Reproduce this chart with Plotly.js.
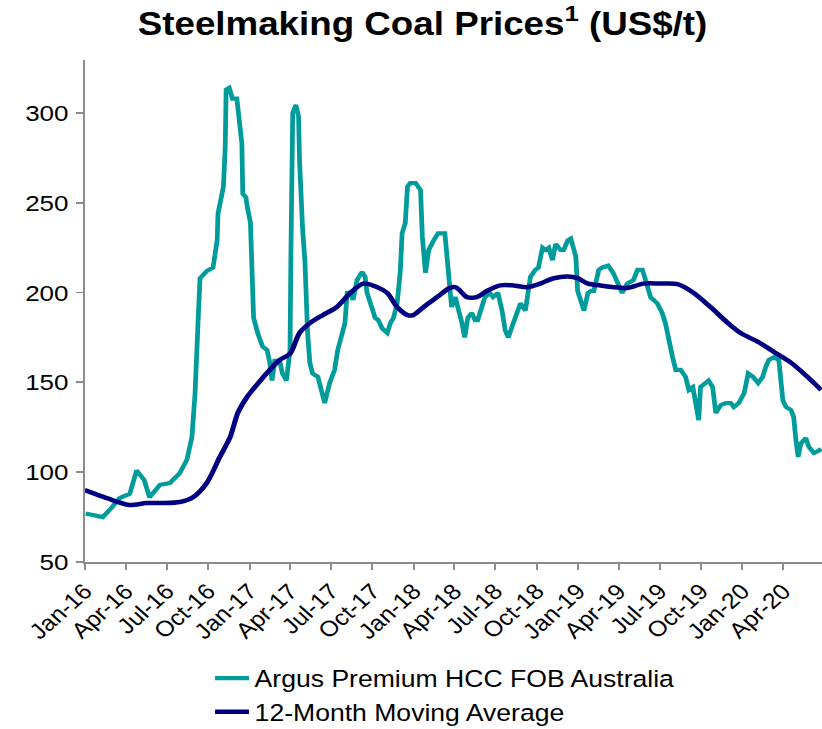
<!DOCTYPE html>
<html>
<head>
<meta charset="utf-8">
<script src="https://cdn.plot.ly/plotly-3.0.1.min.js"></script>
<style>
html,body{margin:0;padding:0;background:#fff;overflow:hidden;}
#wrap{width:727px;height:729px;transform:scaleX(1.1307);transform-origin:0 0;}
</style>
</head>
<body>
<div id="wrap"><div id="chart" style="width:727px;height:729px;"></div></div>
<script>
const argusDates = ['2016-01-03','2016-02-10','2016-03-02','2016-03-18','2016-04-10','2016-04-25','2016-05-12','2016-05-24','2016-06-16','2016-07-08','2016-07-30','2016-08-15','2016-08-26','2016-09-02','2016-09-09','2016-09-13','2016-09-28','2016-10-12','2016-10-21','2016-10-23','2016-11-04','2016-11-08','2016-11-10','2016-11-17','2016-11-24','2016-12-04','2016-12-06','2016-12-15','2016-12-17','2016-12-24','2016-12-27','2017-01-03','2017-01-05','2017-01-08','2017-01-10','2017-01-19','2017-01-30','2017-02-09','2017-02-15','2017-02-20','2017-02-26','2017-03-09','2017-03-15','2017-03-24','2017-04-01','2017-04-03','2017-04-05','2017-04-07','2017-04-14','2017-04-20','2017-04-22','2017-04-27','2017-04-29','2017-05-04','2017-05-08','2017-05-10','2017-05-15','2017-05-21','2017-06-02','2017-06-06','2017-06-17','2017-06-28','2017-07-09','2017-07-16','2017-07-25','2017-08-01','2017-08-06','2017-08-13','2017-08-19','2017-08-28','2017-09-08','2017-09-15','2017-09-19','2017-09-30','2017-10-07','2017-10-14','2017-10-23','2017-11-03','2017-11-10','2017-11-17','2017-11-25','2017-12-02','2017-12-06','2017-12-13','2017-12-18','2017-12-24','2018-01-05','2018-01-16','2018-01-20','2018-01-27','2018-02-03','2018-02-14','2018-02-24','2018-03-11','2018-03-17','2018-03-22','2018-03-26','2018-04-03','2018-04-09','2018-04-18','2018-04-24','2018-05-01','2018-05-10','2018-05-17','2018-05-23','2018-06-02','2018-06-08','2018-06-19','2018-06-26','2018-07-07','2018-07-16','2018-07-23','2018-07-30','2018-08-10','2018-08-19','2018-08-26','2018-09-06','2018-09-13','2018-09-17','2018-09-28','2018-10-05','2018-10-14','2018-10-21','2018-10-28','2018-11-05','2018-11-12','2018-11-23','2018-11-30','2018-12-09','2018-12-16','2018-12-22','2018-12-27','2018-12-31','2019-01-07','2019-01-14','2019-01-23','2019-01-30','2019-02-05','2019-02-16','2019-02-24','2019-03-09','2019-03-20','2019-03-31','2019-04-09','2019-04-20','2019-05-04','2019-05-13','2019-05-24','2019-05-31','2019-06-11','2019-06-26','2019-07-07','2019-07-14','2019-07-21','2019-07-30','2019-08-06','2019-08-17','2019-08-28','2019-09-04','2019-09-13','2019-09-19','2019-09-26','2019-09-30','2019-10-12','2019-10-18','2019-10-27','2019-11-03','2019-11-14','2019-11-25','2019-12-06','2019-12-13','2019-12-24','2020-01-05','2020-01-14','2020-01-25','2020-02-05','2020-02-15','2020-02-22','2020-02-29','2020-03-11','2020-03-22','2020-03-31','2020-04-07','2020-04-18','2020-04-24','2020-04-29','2020-05-04','2020-05-10','2020-05-21','2020-05-28','2020-06-08','2020-06-19','2020-06-24'];
const argusPrices = [77,75,80.6,85.6,88,101,95.6,86,93,94,99.5,107,119.6,144,186,208,212,214,229,244,259,281,313,314,308,308,303,283,255,253,247.7,239,224,205,186,177.5,170,168,161,151,162,162,155,151,168,223,278,300,304.5,298,274,236.5,235,218,190,177.5,161,155,153,149.6,138.5,149.6,157,168,177.5,183,199.8,200,196,207,211.5,208.7,200,192,186,184.7,180,177.5,183,186,194,212,233,238.7,259,261,261,257,231,211,223.7,229,233,233,216,199.8,192,197.5,192,183,175,186,188.6,184.7,184.7,194,197.5,199.8,197.5,199.8,190,179,175,183,190,194,190,201,208.7,212.6,214,225,223.7,225,218,227,223.7,223.7,229,230,225,220,201,196,190,199.8,201,201,212.6,214,215,211,205,199.8,205,207,212.6,212.6,207,197.5,194,188.6,183,173.6,164,157,157,153,145.8,147.4,138.5,129,147.4,149.6,151,147.4,133,137.4,138.5,138.5,136.3,138.5,144,155,153,149.6,153,158.6,162.5,164,162.5,140,136.3,134.6,130.7,118,108.5,116,119,114,110.7,112,113];

const movingAvgDates = ['2016-01-01','2016-02-03','2016-03-02','2016-04-10','2016-05-17','2016-06-22','2016-07-30','2016-08-28','2016-09-28','2016-10-27','2016-11-19','2016-12-06','2016-12-27','2017-01-25','2017-02-21','2017-03-09','2017-04-01','2017-04-22','2017-05-15','2017-06-13','2017-07-14','2017-08-13','2017-09-11','2017-10-12','2017-11-03','2017-11-25','2017-12-18','2017-12-31','2018-01-23','2018-02-22','2018-03-22','2018-04-03','2018-04-14','2018-04-29','2018-05-21','2018-06-13','2018-07-12','2018-08-10','2018-09-11','2018-10-09','2018-11-08','2018-12-09','2018-12-31','2019-01-23','2019-02-20','2019-03-20','2019-04-20','2019-05-26','2019-07-03','2019-08-10','2019-09-15','2019-10-22','2019-11-30','2019-12-28','2020-02-05','2020-03-11','2020-04-18','2020-05-25','2020-06-24'];
const movingAvgValues = [90,87,84.5,81.7,82.8,82.8,83.4,86,94,108.5,119.6,133,142,151,158.6,162.5,166,177.5,183,187.5,192,199.8,205,203,199.8,192,187.5,187.5,192,197.5,202.6,203,201,197.5,197.5,201,204,204,203,205,208,209,208,205,204,203,202.6,205,205,204.7,199.8,192,183,177.5,172.5,167,161,153,145.8];

const tickDates = ['2016-01-01','2016-04-01','2016-07-01','2016-10-01','2017-01-01','2017-04-01','2017-07-01','2017-10-01','2018-01-01','2018-04-01','2018-07-01','2018-10-01','2019-01-01','2019-04-01','2019-07-01','2019-10-01','2020-01-01','2020-04-01'];
const tickLabels = ['Jan-16','Apr-16','Jul-16','Oct-16','Jan-17','Apr-17','Jul-17','Oct-17','Jan-18','Apr-18','Jul-18','Oct-18','Jan-19','Apr-19','Jul-19','Oct-19','Jan-20','Apr-20'];
const yTicks = [50,100,150,200,250,300];

const FONT = 'Liberation Sans, Arial, sans-serif';
const axisGray = '#8c8c8c';

const traces = [
  {type:'scatter', mode:'lines', name:'Argus Premium HCC FOB Australia', x:argusDates, y:argusPrices,
   line:{color:'#009b9b', width:4.2, shape:'linear'}},
  {type:'scatter', mode:'lines', name:'12-Month Moving Average', x:movingAvgDates, y:movingAvgValues,
   line:{color:'#000080', width:4.5, shape:'spline', smoothing:0.8}}
];

const layout = {
  width:727, height:729,
  paper_bgcolor:'#fff', plot_bgcolor:'#fff',
  font:{family:FONT, color:'#000', size:22},
  margin:{l:75, r:0, t:60, b:167, autoexpand:false},
  title:{text:'Steelmaking Coal Prices<sup>1</sup> (US$/t)', font:{family:FONT, size:32.5, weight:'bold', color:'#000'},
         xref:'container', x:0.514, xanchor:'center', yref:'container', y:0.968, yanchor:'middle'},
  xaxis:{type:'date', range:['2016-01-01','2020-06-26'], tickmode:'array', tickvals:tickDates, ticktext:tickLabels,
         tickangle:-45, ticks:'outside', ticklen:6, tickwidth:1.8, tickcolor:axisGray,
         showline:true, linecolor:axisGray, linewidth:1.8, showgrid:false, zeroline:false, automargin:false,
         tickfont:{family:FONT, size:22, color:'#000'}},
  yaxis:{range:[50,329.5], tickmode:'array', tickvals:yTicks, ticks:'outside', ticklen:6, tickwidth:1.8, tickcolor:axisGray,
         showline:true, linecolor:axisGray, linewidth:1.8, showgrid:false, zeroline:false, automargin:false,
         ticklabelstandoff:2, tickfont:{family:FONT, size:23, color:'#000'}},
  showlegend:true,
  legend:{orientation:'v', x:0.169, xanchor:'left', y:-0.188, yanchor:'top',
          font:{family:FONT, size:23.5, color:'#000'}, bgcolor:'rgba(0,0,0,0)', tracegroupgap:0}
};

Plotly.newPlot('chart', traces, layout, {staticPlot:true, displayModeBar:false});
</script>
</body>
</html>
